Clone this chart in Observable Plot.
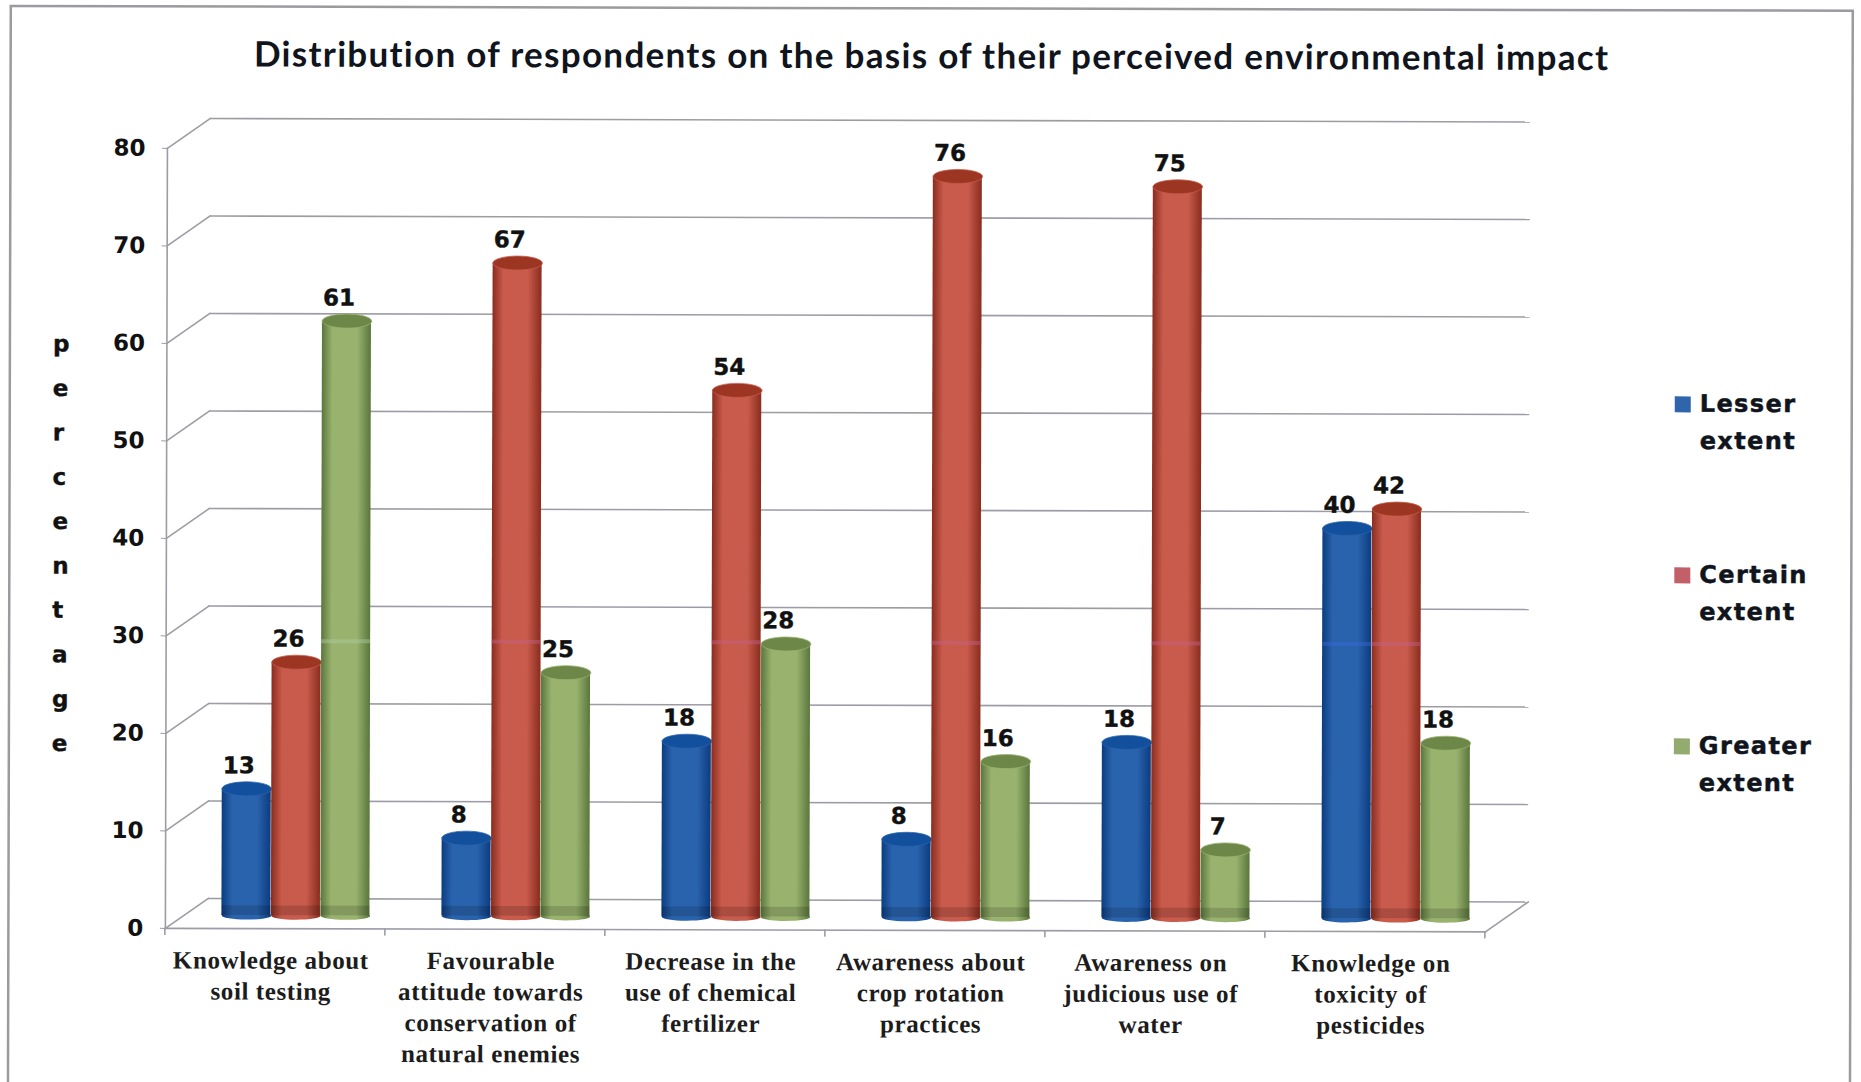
<!DOCTYPE html>
<html>
<head>
<meta charset="utf-8">
<script src="https://cdn.jsdelivr.net/npm/d3@7"></script>
<script src="https://cdn.jsdelivr.net/npm/@observablehq/plot@0.6"></script>
<style>
  html, body { margin: 0; background: #fff; overflow: hidden; }
  #chart { width: 1861px; height: 1082px; transform: rotate(0.15deg); transform-origin: 210px 118px; }
  #chart svg { display: block; background: transparent; overflow: visible; }
  g[aria-label="x-axis tick label"] { letter-spacing: 0.6px; }
  .chart-title { letter-spacing: 1.3px; }
  .legend-label { letter-spacing: 1.4px; }
</style>
</head>
<body>
<div id="chart"></div>
<script>
const categories = [
  "Knowledge about\nsoil testing",
  "Favourable\nattitude towards\nconservation of\nnatural enemies",
  "Decrease in the\nuse of chemical\nfertilizer",
  "Awareness about\ncrop rotation\npractices",
  "Awareness on\njudicious use of\nwater",
  "Knowledge on\ntoxicity of\npesticides"
];
const lesser = [13, 8, 18, 8, 18, 40];
const certain = [26, 67, 54, 76, 75, 42];
const greater = [61, 25, 28, 16, 7, 18];
const yTicks = [0, 10, 20, 30, 40, 50, 60, 70, 80];

const chartTitle = "Distribution of respondents on the basis of their perceived environmental impact";
const axisTitle = "p\ne\nr\nc\ne\nn\nt\na\ng\ne";

const seriesList = [
  {name: "Lesser\nextent", values: lesser, id: "blue", dark: "#0b3c80", mid: "#2a63ad", cap: "#124f9c", band: "#3a68d8", swatch: "#2f66ab"},
  {name: "Certain\nextent", values: certain, id: "red", dark: "#8a2c1e", mid: "#c85b4c", cap: "#9c3622", band: "#c4608a", swatch: "#c2606a"},
  {name: "Greater\nextent", values: greater, id: "green", dark: "#5a763c", mid: "#99b36f", cap: "#6c8748", band: "#b0cda0", swatch: "#93ab6e"}
];

// Cylinder ends are flat ellipses; the dot symbol ignores the requested size.
const ellipse = (rx, ry) => ({
  draw(c) {
    const k = 0.5523;
    c.moveTo(-rx, 0);
    c.bezierCurveTo(-rx, -ry * k, -rx * k, -ry, 0, -ry);
    c.bezierCurveTo(rx * k, -ry, rx, -ry * k, rx, 0);
    c.bezierCurveTo(rx, ry * k, rx * k, ry, 0, ry);
    c.bezierCurveTo(-rx * k, ry, -rx, ry * k, -rx, 0);
    c.closePath();
  }
});
const segment = {draw(c, l) { c.moveTo(0, 0); c.lineTo(0, -l); }};
const swatch = {draw(c) { c.rect(-8, -8, 16, 16); }};

const sans = "DejaVu Sans";
const gridColor = "#9c9ca6";
const barWidth = 49.5;
const depthX = 43, depthY = -30;
const baseDy = -13;
const centerDx = 21;

// Horizontal shading that gives each bar its rounded look.
function gradients() {
  const defs = d3.create("svg:defs");
  for (const s of seriesList) {
    const g = defs.append("linearGradient").attr("id", s.id).attr("x1", 0).attr("x2", 1).attr("y1", 0).attr("y2", 0);
    [[0, s.dark], [0.22, s.mid], [0.72, s.mid], [1, s.dark]].forEach(([o, c]) =>
      g.append("stop").attr("offset", o).attr("stop-color", c));
  }
  return defs.node();
}

const rows = (s) => categories.map((c, i) => ({category: c, value: s.values[i]}));

const labelMarks = seriesList.map((s, i) => Plot.text(rows(s), {
  x: "category", y: "value", text: "value",
  dx: centerDx + (i - 1) * barWidth - 8, dy: baseDy - 23,
  fontFamily: sans, fontWeight: "bold", fontSize: 23, fill: "#111", stroke: "#111", strokeWidth: 0.4
}));

const barMarks = seriesList.flatMap((s, i) => {
  const dx = centerDx + (i - 1) * barWidth;
  const data = rows(s);
  return [
    Plot.dot(data, {x: "category", y: () => 0, dx, dy: baseDy, symbol: ellipse(barWidth / 2, 4), fill: `url(#${s.id})`}),
    Plot.barY(data, {x: "category", y1: () => 0, y2: "value", dx, dy: baseDy, fill: `url(#${s.id})`}),
    Plot.dot(data, {x: "category", y: "value", dx, dy: baseDy, symbol: ellipse(barWidth / 2, 7), fill: s.cap, stroke: s.mid, strokeWidth: 0.8}),
    Plot.barY(data, {x: "category", y1: () => 0, y2: () => 1, dx, dy: baseDy, fill: "#000", fillOpacity: 0.15}),
    Plot.tickY(data.filter((d) => d.value > 30), {x: "category", y: () => 29.5, dx, strokeWidth: 4, stroke: s.band, strokeOpacity: 0.45})
  ];
});

const legendMarks = seriesList.flatMap((s, i) => [
  Plot.dot([s], {frameAnchor: "top-left", dx: 1516, dy: 252 + 171 * i, symbol: swatch, fill: s.swatch}),
  Plot.text([s.name], {
    className: "legend-label",
    frameAnchor: "top-left", dx: 1533, dy: 266 + 171 * i, textAnchor: "start", lineAnchor: "middle",
    text: (d) => d, fontFamily: sans, fontWeight: "bold", fontSize: 24, lineHeight: 1.55,
    fill: "#10141c", stroke: "#10141c", strokeWidth: 0.5
  })
]);

const chart = Plot.plot({
  width: 1861,
  height: 1082,
  marginLeft: 167,
  marginRight: 374,
  marginTop: 148,
  marginBottom: 154,
  style: {background: "transparent"},
  x: {domain: categories, paddingInner: 0.775, paddingOuter: 0.3875, label: null, axis: null},
  y: {domain: [0, 80], label: null, axis: null},
  marks: [
    gradients,
    // outer picture border, extended past the plot frame
    Plot.frame({stroke: "#9a9aa0", strokeWidth: 2.5, insetLeft: -157, insetTop: -142, insetRight: -365, insetBottom: -200}),
    // back wall and its diagonal links to the front axis
    Plot.ruleY(yTicks, {dx: depthX, dy: depthY, stroke: gridColor, strokeWidth: 1.6}),
    Plot.vector(yTicks, {y: (d) => d, frameAnchor: "left", length: 52.4, rotate: 55, anchor: "start", shape: segment, stroke: gridColor, strokeWidth: 1.6}),
    Plot.vector([0], {y: (d) => d, frameAnchor: "right", length: 52.4, rotate: 55, anchor: "start", shape: segment, stroke: gridColor, strokeWidth: 1.6}),
    Plot.frame({anchor: "left", stroke: gridColor, strokeWidth: 1.6}),
    Plot.frame({anchor: "bottom", stroke: gridColor, strokeWidth: 1.6}),
    Plot.axisY({ticks: yTicks, anchor: "left", tickSize: 5, tickPadding: 17, label: null, stroke: gridColor, fontFamily: sans, fontWeight: "bold", fontSize: 23, fill: "#111"}),
    Plot.vector(categories, {x: (d) => d, y: () => 0, dx: 110, length: 6, rotate: 180, anchor: "start", shape: segment, stroke: gridColor, strokeWidth: 1.6}),
    Plot.vector(categories.slice(0, 1), {x: (d) => d, y: () => 0, dx: -110, length: 6, rotate: 180, anchor: "start", shape: segment, stroke: gridColor, strokeWidth: 1.6}),
    ...labelMarks,
    ...barMarks,
    Plot.axisX({anchor: "bottom", tickSize: 0, tickPadding: 18, label: null, tickFormat: (d) => d, dx: -4, lineHeight: 1.24, fontFamily: "Liberation Serif", fontWeight: "bold", fontSize: 25, fill: "#1c1c1c"}),
    Plot.text([axisTitle], {frameAnchor: "left", dx: -114, dy: -1, lineHeight: 1.93, text: (d) => d, fontFamily: sans, fontWeight: "bold", fontSize: 23, fill: "#111", stroke: "#111", strokeWidth: 0.4}),
    Plot.text([chartTitle], {className: "chart-title", frameAnchor: "top", dx: 104, dy: -107, text: (d) => d, fontFamily: "Lato", fontWeight: "bold", fontSize: 35, fill: "#10141c"}),
    ...legendMarks
  ]
});
document.getElementById("chart").append(chart);
</script>
</body>
</html>
